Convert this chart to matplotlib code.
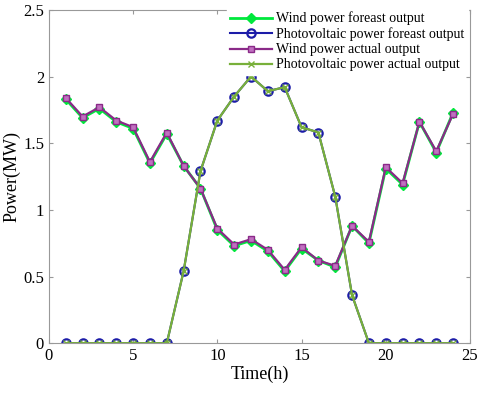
import matplotlib
matplotlib.use("Agg")
import matplotlib.pyplot as plt
from matplotlib.ticker import FuncFormatter

plt.rcParams['font.family'] = ['Liberation Serif', 'DejaVu Serif']

hours = list(range(1, 25))
wind_forecast = [1.83, 1.69, 1.76, 1.66, 1.61, 1.35, 1.57, 1.33, 1.16, 0.85,
                 0.73, 0.77, 0.69, 0.54, 0.71, 0.62, 0.57, 0.88, 0.75, 1.31,
                 1.19, 1.66, 1.43, 1.73]
pv_forecast = [0, 0, 0, 0, 0, 0, 0, 0.54, 1.29, 1.67, 1.85, 2.0, 1.89, 1.92,
               1.62, 1.58, 1.10, 0.36, 0, 0, 0, 0, 0, 0]
wind_actual = [1.84, 1.70, 1.77, 1.67, 1.62, 1.36, 1.58, 1.33, 1.16, 0.86,
               0.74, 0.78, 0.70, 0.55, 0.72, 0.62, 0.58, 0.88, 0.76, 1.32,
               1.20, 1.66, 1.44, 1.72]
pv_actual = [0, 0, 0, 0, 0, 0, 0, 0.54, 1.29, 1.67, 1.85, 2.0, 1.89, 1.92,
             1.62, 1.58, 1.10, 0.36, 0, 0, 0, 0, 0, 0]

fig = plt.figure(figsize=(4.84, 3.94), dpi=100)
ax = fig.add_axes([0.101, 0.129, 0.870, 0.846])

ax.plot(hours, wind_forecast, color='#00e83c', marker='D', markersize=5,
        linewidth=2, label='Wind power foreast output')
ax.plot(hours, pv_forecast, color='#1c1ca8', marker='o', markersize=6,
        markerfacecolor='none', markeredgewidth=1.6, linewidth=1.5,
        label='Photovoltaic power foreast output')
ax.plot(hours, wind_actual, color='#8a2a88', marker='s', markersize=4,
        markerfacecolor='#c070c0', linewidth=1.6,
        label='Wind power actual output')
ax.plot(hours, pv_actual, color='#78b03a', marker='x', markersize=4,
        linewidth=1.6, label='Photovoltaic power actual output')

ax.set_xlim(0, 25)
ax.set_ylim(0, 2.5)
ax.set_xticks([0, 5, 10, 15, 20, 25])
ax.set_yticks([0, 0.5, 1, 1.5, 2, 2.5])
ax.yaxis.set_major_formatter(FuncFormatter(lambda v, p: '%g' % v))
ax.tick_params(direction='in', labelsize=12, length=3, color='#999999',
               top=True, right=True)
for s in ax.spines.values():
    s.set_color('#999999')

ax.set_xlabel('Time(h)', fontsize=13, labelpad=1)
ax.set_ylabel('Power(MW)', fontsize=13, labelpad=2)

leg = ax.legend(loc='upper right', bbox_to_anchor=(0.995, 1.005), fontsize=10,
                frameon=True, fancybox=False, borderpad=0.25, labelspacing=0.15,
                handlelength=3.0, handletextpad=0.3, borderaxespad=0.0)
leg.get_frame().set_edgecolor('white')
leg.get_frame().set_alpha(1)

fig.savefig('out.png', dpi=100)
